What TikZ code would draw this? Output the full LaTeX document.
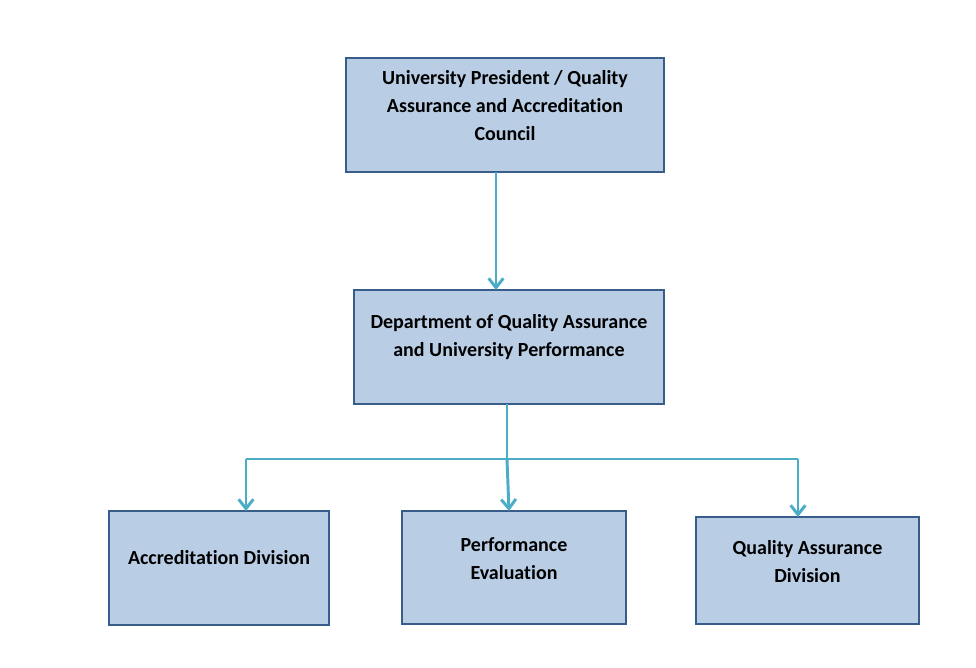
\documentclass[tikz,border=0pt]{standalone}
\usepackage{fontspec}
\setmainfont{Carlito}[Ligatures=NoCommon]
\usetikzlibrary{positioning}
\usetikzlibrary{arrows.meta}

\definecolor{boxfill}{HTML}{B9CDE5}
\definecolor{boxline}{HTML}{385D8A}
\definecolor{linkcol}{HTML}{4BACC6}

\tikzset{
  unitbox/.style={draw=boxline,fill=boxfill,line width=2pt,inner sep=0pt,outer sep=0pt},
  unittext/.style={align=center,font=\fontsize{15pt}{21pt}\selectfont\bfseries},
  link/.style={draw=linkcol,line width=2.2pt},
  linkarrow/.style={link,-{Straight Barb[length=7pt,width=11pt,line width=2.2pt]}}
}

\begin{document}
\begin{tikzpicture}[x=0.75pt,y=-0.75pt]
            \useasboundingbox (0,0) rectangle (976,668);
            % boxes
            \node[unitbox,minimum width=238.5pt,minimum height=85.5pt] (pres) at (505,115) {};
            \node[unitbox,minimum width=232.5pt,minimum height=85.5pt] (dept) at (509,347) {};
            \node[unitbox,minimum width=165pt,minimum height=85.5pt] (accr) at (219,568) {};
            \node[unitbox,minimum width=168pt,minimum height=84.75pt] (perf) at (514,567.5) {};
            \node[unitbox,minimum width=167.25pt,minimum height=80.25pt] (qad) at (807.5,570.5) {};
            % texts
            \node[unittext] (presT) at ([yshift=7pt]pres.center) {University President / Quality\\Assurance and Accreditation\\Council};
            \node[unittext] (deptT) at ([yshift=7.5pt]dept.center) {Department of Quality Assurance\\and University Performance};
            \node[unittext] (accrT) at ([yshift=7.5pt]accr.center) {Accreditation Division};
            \node[unittext] (perfT) at ([yshift=7pt]perf.center) {Performance\\Evaluation};
            \node[unittext] (qadT) at ([yshift=7pt]qad.center) {Quality Assurance\\Division};
            % connectors
            \coordinate (hub) at (507,459);
            \coordinate (leftend) at (246,459);
            \coordinate (rightend) at (798,459);
            \draw[linkarrow] ([xshift=-6.75pt]pres.south) -- ([xshift=-6.75pt]pres.south |- dept.north);
            \draw[link] ([xshift=-1.5pt]dept.south) -- (hub);
            \draw[link] (leftend) -- (rightend);
            \draw[linkarrow] (leftend) -- (leftend |- accr.north);
            \draw[linkarrow] (hub) -- ([xshift=1.5pt]hub |- perf.north);
            \draw[linkarrow] (rightend) -- (rightend |- qad.north);
        \end{tikzpicture}
\end{document}
